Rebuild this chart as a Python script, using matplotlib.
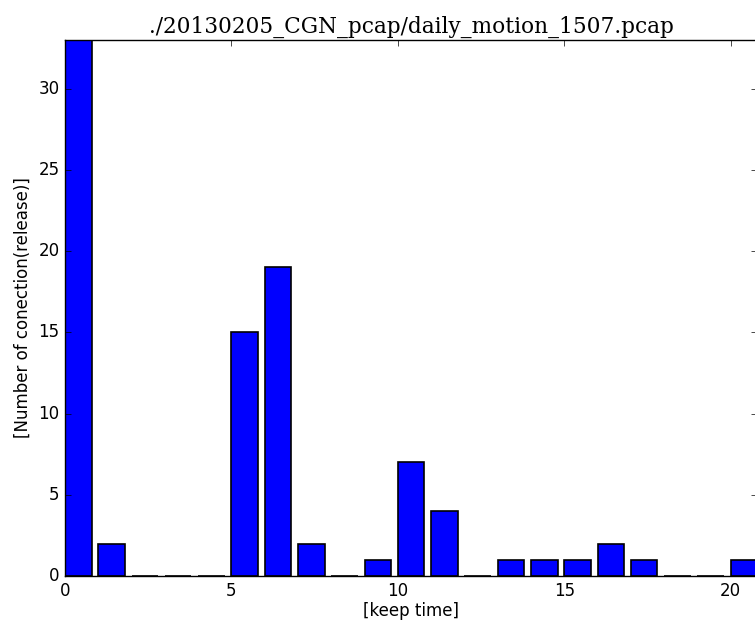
import numpy as np
import matplotlib
matplotlib.use('Agg')
import matplotlib.pyplot as plt

plt.style.use('classic')

# keep time (s) and number of released connections
keep_time = [0, 1, 2, 3, 4, 5, 6, 7, 8, 9, 10, 11, 12, 13, 14, 15, 16, 17, 18, 19, 20]
counts = [33, 2, 0, 0, 0, 15, 19, 2, 0, 1, 7, 4, 0, 1, 1, 1, 2, 1, 0, 0, 1]

title = './20130205_CGN_pcap/daily_motion_1507.pcap'

fig = plt.figure(figsize=(7.55, 6.24), dpi=100, facecolor='white')
ax = fig.add_axes([0.0861, 0.0769, 0.917, 0.859])

ax.bar(keep_time, counts, width=0.8, align='edge', color='#0000ff',
       edgecolor='black', linewidth=1.2)

ax.set_xlim(0, 20.8)
ax.set_ylim(0, 33)
ax.set_xticks([0, 5, 10, 15, 20])
ax.set_yticks([0, 5, 10, 15, 20, 25, 30])

ax.set_xlabel('[keep time]', fontsize=12, labelpad=2)
ax.set_ylabel('[Number of conection(release)]', fontsize=12)
ax.set_title(title, fontsize=15.6, family='DejaVu Serif', pad=5)

fig.savefig('out.png', dpi=100, facecolor='white')
